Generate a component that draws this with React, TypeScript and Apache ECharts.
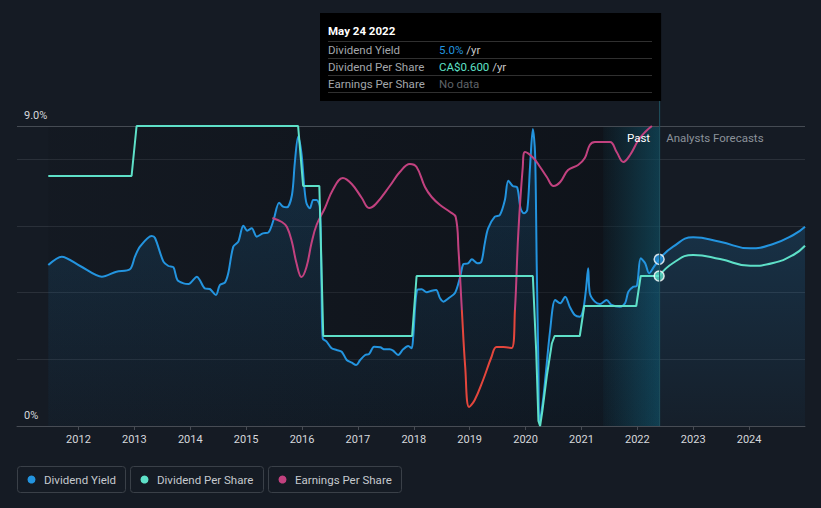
import React, { useEffect, useRef } from "react";
import * as echarts from "echarts";

const BG = "#151b24";
const BLUE = "#2394df";
const TEAL = "#5ee0c8";
const PINK = "#c2417f";
const RED = "#e5463c";
const FONT = "Roboto, 'Noto Sans', sans-serif";

const X_MIN = 2010.9;
const X_MAX = 2025.0;
const CURRENT = 2022.39;
const LAST_YEAR_START = 2021.39;
const yearTicks = [2012, 2013, 2014, 2015, 2016, 2017, 2018, 2019, 2020, 2021, 2022, 2023, 2024];

// Dividend yield (%)
const yieldPast: [number, number][] = [
  [2011.46, 4.83], [2011.7, 5.08], [2012.03, 4.8], [2012.42, 4.48], [2012.68, 4.63], [2012.92, 4.7],
  [2013.01, 5.08], [2013.1, 5.38], [2013.31, 5.7], [2013.37, 5.64], [2013.52, 4.93], [2013.61, 4.8],
  [2013.7, 4.76], [2013.77, 4.38], [2013.88, 4.28], [2013.97, 4.26], [2014.12, 4.48], [2014.17, 4.38],
  [2014.26, 4.13], [2014.35, 4.11], [2014.46, 3.93], [2014.53, 4.23], [2014.62, 4.3], [2014.68, 4.58],
  [2014.77, 5.38], [2014.86, 5.53], [2014.95, 6.01], [2015.02, 5.86], [2015.1, 5.93], [2015.19, 5.68],
  [2015.3, 5.78], [2015.4, 5.81], [2015.49, 6.18], [2015.59, 6.7], [2015.66, 6.58], [2015.73, 6.56],
  [2015.82, 6.93], [2015.87, 7.88], [2015.93, 8.68], [2015.99, 8.18], [2016.04, 7.18], [2016.08, 6.68],
  [2016.14, 6.53], [2016.2, 6.78], [2016.26, 6.78], [2016.32, 6.58], [2016.35, 4.1], [2016.37, 2.63],
  [2016.44, 2.53], [2016.53, 2.33], [2016.62, 2.28], [2016.71, 2.23], [2016.8, 1.98], [2016.89, 1.9],
  [2016.97, 1.83], [2017.04, 1.98], [2017.13, 2.13], [2017.2, 2.16], [2017.29, 2.38], [2017.4, 2.36],
  [2017.48, 2.3], [2017.57, 2.3], [2017.63, 2.26], [2017.72, 2.13], [2017.81, 2.3], [2017.9, 2.4],
  [2017.96, 2.33], [2017.99, 2.68], [2018.06, 4.08], [2018.14, 4.1], [2018.23, 4.01], [2018.32, 4.06],
  [2018.4, 4.08], [2018.47, 3.83], [2018.53, 3.73], [2018.62, 3.83], [2018.74, 4.0], [2018.83, 4.48],
  [2018.89, 4.86], [2018.97, 4.88], [2019.04, 5.0], [2019.14, 4.88], [2019.21, 4.93], [2019.27, 5.48],
  [2019.33, 5.93], [2019.45, 6.28], [2019.54, 6.33], [2019.63, 6.78], [2019.69, 7.36], [2019.77, 7.2],
  [2019.85, 7.16], [2019.91, 6.53], [2019.97, 6.38], [2020.03, 6.48], [2020.08, 7.78], [2020.13, 8.91],
  [2020.17, 8.18], [2020.2, 4.78], [2020.23, 1.78], [2020.25, 0.09], [2020.32, 0.88], [2020.44, 2.88],
  [2020.53, 3.78], [2020.62, 3.68], [2020.71, 3.88], [2020.79, 3.58], [2020.88, 3.33], [2020.97, 3.28],
  [2021.03, 3.48], [2021.08, 4.08], [2021.12, 4.73], [2021.15, 3.98], [2021.24, 3.73], [2021.33, 3.66],
  [2021.45, 3.78], [2021.54, 3.63], [2021.69, 3.58], [2021.78, 3.68], [2021.84, 4.03], [2021.93, 4.18],
  [2021.99, 4.2], [2022.06, 5.03], [2022.14, 4.88], [2022.21, 4.58], [2022.29, 4.76], [2022.39, 5.0],
];
const yieldForecast: [number, number][] = [
  [2022.39, 5.0], [2022.64, 5.38], [2023.0, 5.66], [2023.48, 5.53], [2024.02, 5.33], [2024.43, 5.46],
  [2024.79, 5.73], [2025.0, 5.98],
];

// Dividend per share (CA$)
const dpsPast: [number, number][] = [
  [2011.46, 1.0], [2012.95, 1.0], [2013.04, 1.2], [2015.93, 1.2], [2016.02, 0.96], [2016.31, 0.96],
  [2016.38, 0.36], [2017.97, 0.36], [2018.05, 0.6], [2020.13, 0.6], [2020.19, 0.3], [2020.23, 0.02],
  [2020.26, 0.0], [2020.3, 0.06], [2020.38, 0.2], [2020.47, 0.33], [2020.52, 0.36], [2020.97, 0.36],
  [2021.05, 0.48], [2021.98, 0.48], [2022.06, 0.6], [2022.39, 0.6],
];
const dpsForecast: [number, number][] = [
  [2022.39, 0.6], [2022.64, 0.652], [2023.0, 0.684], [2023.48, 0.668], [2024.02, 0.641], [2024.43, 0.652],
  [2024.79, 0.684], [2025.0, 0.721],
];

// Earnings per share
const epsPast: [number, number][] = [
  [2015.47, 0.92], [2015.64, 0.88], [2015.73, 0.83], [2015.82, 0.68], [2015.9, 0.47], [2015.99, 0.33],
  [2016.08, 0.43], [2016.17, 0.67], [2016.26, 0.85], [2016.41, 1.02], [2016.55, 1.2], [2016.73, 1.32],
  [2016.89, 1.26], [2017.07, 1.12], [2017.2, 1.02], [2017.32, 1.06], [2017.57, 1.24], [2017.75, 1.38],
  [2017.93, 1.46], [2018.05, 1.43], [2018.2, 1.23], [2018.32, 1.13], [2018.47, 1.05], [2018.65, 0.98],
  [2018.75, 0.93], [2018.8, 0.6], [2018.86, 0.0], [2018.92, -0.57], [2018.99, -0.97], [2019.09, -0.9],
  [2019.24, -0.7], [2019.39, -0.47], [2019.48, -0.37], [2019.6, -0.37], [2019.75, -0.38], [2019.81, 0.0],
  [2019.87, 0.77], [2019.95, 1.43], [2019.99, 1.58], [2020.14, 1.52], [2020.26, 1.43], [2020.38, 1.33],
  [2020.5, 1.24], [2020.62, 1.28], [2020.76, 1.4], [2020.94, 1.45], [2021.06, 1.52], [2021.15, 1.65],
  [2021.24, 1.68], [2021.51, 1.68], [2021.63, 1.58], [2021.75, 1.48], [2021.87, 1.55], [2022.02, 1.7],
  [2022.14, 1.78], [2022.26, 1.84],
];

const currentYield = 5.0;
const currentDps = 0.6;
const legendNames = ["Dividend Yield", "Dividend Per Share", "Earnings Per Share"];
const legendColors = [BLUE, TEAL, PINK];

export default function App() {
  const ref = useRef<HTMLDivElement>(null);
  useEffect(() => {
    document.body.style.margin = "0";
    document.body.style.background = BG;
    const chart = echarts.init(ref.current!, null, { renderer: "svg" });
    const areaGrad = () =>
      new echarts.graphic.LinearGradient(0, 0, 0, 1, [
        { offset: 0, color: "rgba(35,148,223,0.26)" },
        { offset: 1, color: "rgba(35,148,223,0.05)" },
      ]);
    const option: any = {
      animation: false,
      backgroundColor: BG,
      grid: { left: 17, right: 16, top: 126, bottom: 82, containLabel: false },
      xAxis: {
        type: "value",
        min: X_MIN,
        max: X_MAX,
        z: 1,
        axisLine: { show: true, lineStyle: { color: "#474c54", width: 1 } },
        axisTick: { show: true, customValues: yearTicks, length: 4, lineStyle: { color: "#474c54" } },
        axisLabel: {
          customValues: yearTicks,
          formatter: (v: number) => String(Math.round(v)),
          color: "#d5d8dc",
          fontSize: 11,
          fontFamily: FONT,
          margin: 8,
        },
        splitLine: { show: false },
      },
      yAxis: [
        {
          type: "value",
          min: 0,
          max: 9,
          interval: 2,
          z: 1,
          axisLine: { show: false },
          axisTick: { show: false },
          axisLabel: {
            inside: true,
            margin: 7,
            verticalAlign: "bottom",
            padding: [0, 0, 5, 0],
            color: "#d5d8dc",
            fontSize: 11,
            fontFamily: FONT,
            formatter: (v: number) => (v === 0 ? "0%" : v === 9 ? "9.0%" : ""),
          },
          splitLine: {
            show: true,
            lineStyle: { color: "#2a3039", width: 1 },
          },
        },
        { type: "value", min: 0, max: 1.2, show: false, splitLine: { show: false } },
        { type: "value", min: -1.16, max: 1.84, show: false, splitLine: { show: false } },
      ],
      series: [
        {
          type: "line",
          name: "Dividend Yield",
          data: yieldPast,
          smooth: 0.3,
          symbol: "none",
          z: 3,
          lineStyle: { color: BLUE, width: 2 },
          itemStyle: { color: BLUE },
          areaStyle: { color: areaGrad(), origin: "start" },
          markArea: {
            silent: true,
            z: 1,
            data: [
              [
                {
                  xAxis: 2011.46,
                  itemStyle: {
                    color: new echarts.graphic.LinearGradient(0, 0, 1, 0, [
                      { offset: 0, color: "rgba(4,6,10,0.08)" },
                      { offset: 1, color: "rgba(4,6,10,0.4)" },
                    ]),
                  },
                },
                { xAxis: CURRENT },
              ],
              [
                {
                  xAxis: LAST_YEAR_START,
                  itemStyle: {
                    color: new echarts.graphic.LinearGradient(0, 0, 1, 0, [
                      { offset: 0, color: "rgba(18,120,150,0.05)" },
                      { offset: 1, color: "rgba(18,120,150,0.4)" },
                    ]),
                  },
                },
                { xAxis: CURRENT },
              ],
            ],
          },
        },
        {
          type: "line",
          name: "Dividend Yield Forecast",
          data: yieldForecast,
          smooth: true,
          symbol: "none",
          z: 3,
          lineStyle: { color: BLUE, width: 2 },
          itemStyle: { color: BLUE },
          areaStyle: { color: areaGrad(), origin: "start" },
        },
        {
          type: "line",
          name: "Dividend Per Share",
          data: dpsPast,
          yAxisIndex: 1,
          smooth: false,
          symbol: "none",
          z: 4,
          lineStyle: { color: TEAL, width: 2 },
          itemStyle: { color: TEAL },
        },
        {
          type: "line",
          name: "Dividend Per Share Forecast",
          data: dpsForecast,
          yAxisIndex: 1,
          smooth: true,
          symbol: "none",
          z: 4,
          lineStyle: { color: TEAL, width: 2 },
          itemStyle: { color: TEAL },
        },
        {
          type: "line",
          id: "eps",
          name: "Earnings Per Share",
          data: epsPast,
          yAxisIndex: 2,
          smooth: 0.4,
          symbol: "none",
          z: 3,
          lineStyle: { width: 2, color: PINK },
          itemStyle: { color: PINK },
        },
        {
          type: "scatter",
          data: [[CURRENT, currentYield]],
          symbolSize: 10,
          z: 10,
          itemStyle: { color: BLUE, borderColor: "#ffffff", borderWidth: 1.5 },
        },
        {
          type: "scatter",
          yAxisIndex: 1,
          data: [[CURRENT, currentDps]],
          symbolSize: 10,
          z: 10,
          itemStyle: { color: TEAL, borderColor: "#ffffff", borderWidth: 1.5 },
        },
      ],
    };
    chart.setOption(option);

    const px = chart.convertToPixel({ xAxisIndex: 0 }, CURRENT) as number;
    const bottom = chart.convertToPixel({ yAxisIndex: 0 }, 0) as number;
    const top = chart.convertToPixel({ yAxisIndex: 0 }, 9) as number;
    const epsZero = chart.convertToPixel({ yAxisIndex: 2 }, 0) as number;
    const H = 508;
    const zf = epsZero / H;

    const g: any[] = [];
    g.push({
      type: "line",
      shape: { x1: top >= 0 ? 17 : 17, y1: top + 0.5, x2: 805, y2: top + 0.5 },
      style: { stroke: "#454b53", lineWidth: 1 },
      z: 2,
      silent: true,
    });
    g.push({
      type: "line",
      shape: { x1: px + 0.5, y1: 101, x2: px + 0.5, y2: bottom },
      style: { stroke: "#1f5361", lineWidth: 1 },
      z: 50,
    });
    g.push({
      type: "text",
      x: px - 9,
      y: top + 12,
      style: { text: "Past", fill: "#ffffff", fontSize: 11.5, fontFamily: FONT, align: "right", verticalAlign: "middle" },
      z: 60,
    });
    g.push({
      type: "text",
      x: px + 7,
      y: top + 12,
      style: { text: "Analysts Forecasts", fill: "#8b929a", fontSize: 11.5, fontFamily: FONT, align: "left", verticalAlign: "middle" },
      z: 60,
    });
    const tx = 320, ty = 13, tw = px + 2 - 320, th = 88;
    g.push({ type: "rect", shape: { x: tx, y: ty, width: tw, height: th }, style: { fill: "#000000" }, z: 100 });
    g.push({
      type: "text",
      x: 328,
      y: 31,
      style: { text: "May 24 2022", fill: "#ffffff", fontSize: 11.5, fontWeight: "bold", fontFamily: FONT, verticalAlign: "middle" },
      z: 101,
    });
    [41.5, 58.5, 75.5, 92.5].forEach((yy) =>
      g.push({
        type: "line",
        shape: { x1: 328, y1: yy, x2: 652, y2: yy },
        style: { stroke: "#303030", lineWidth: 1 },
        z: 101,
      })
    );
    const rows = [
      { label: "Dividend Yield", text: "{v|5.0%} {u|/yr}", color: BLUE },
      { label: "Dividend Per Share", text: "{v|CA$0.600} {u|/yr}", color: TEAL },
      { label: "Earnings Per Share", text: "{n|No data}", color: "#666" },
    ];
    rows.forEach((r, i) => {
      const yy = 49.5 + i * 17.3;
      g.push({
        type: "text",
        x: 328,
        y: yy,
        style: { text: r.label, fill: "#a3a7ab", fontSize: 11.5, fontFamily: FONT, verticalAlign: "middle" },
        z: 101,
      });
      g.push({
        type: "text",
        x: 439,
        y: yy,
        style: {
          text: r.text,
          fontSize: 11.5,
          fontFamily: FONT,
          verticalAlign: "middle",
          rich: {
            v: { fill: r.color, fontSize: 11.5, fontFamily: FONT },
            u: { fill: "#c8c8c8", fontSize: 11.5, fontFamily: FONT },
            n: { fill: "#5f6368", fontSize: 11.5, fontFamily: FONT },
          },
        },
        z: 101,
      });
    });
    const boxes = [
      { x: 17, w: 109 },
      { x: 130, w: 134 },
      { x: 268, w: 134 },
    ];
    boxes.forEach((b, i) => {
      g.push({
        type: "rect",
        shape: { x: b.x + 0.5, y: 466.5, width: b.w - 1, height: 26, r: 3 },
        style: { fill: "none", stroke: "#3a4048", lineWidth: 1 },
        z: 100,
      });
      g.push({
        type: "circle",
        shape: { cx: b.x + 14.5, cy: 479.5, r: 4 },
        style: { fill: legendColors[i] },
        z: 101,
      });
      g.push({
        type: "text",
        x: b.x + 27,
        y: 480,
        style: { text: legendNames[i], fill: "#c5c9ce", fontSize: 11.5, fontFamily: FONT, verticalAlign: "middle" },
        z: 101,
      });
    });
    chart.setOption({
      graphic: g,
      series: [
        {
          id: "eps",
          lineStyle: {
            width: 2,
            color: new echarts.graphic.LinearGradient(
              0, 0, 0, H,
              [
                { offset: 0, color: PINK },
                { offset: zf, color: PINK },
                { offset: zf, color: RED },
                { offset: 1, color: RED },
              ],
              true
            ),
          },
        },
      ],
    });
    return () => chart.dispose();
  }, []);
  return <div ref={ref} style={{ width: 821, height: 508, background: BG }} />;
}
